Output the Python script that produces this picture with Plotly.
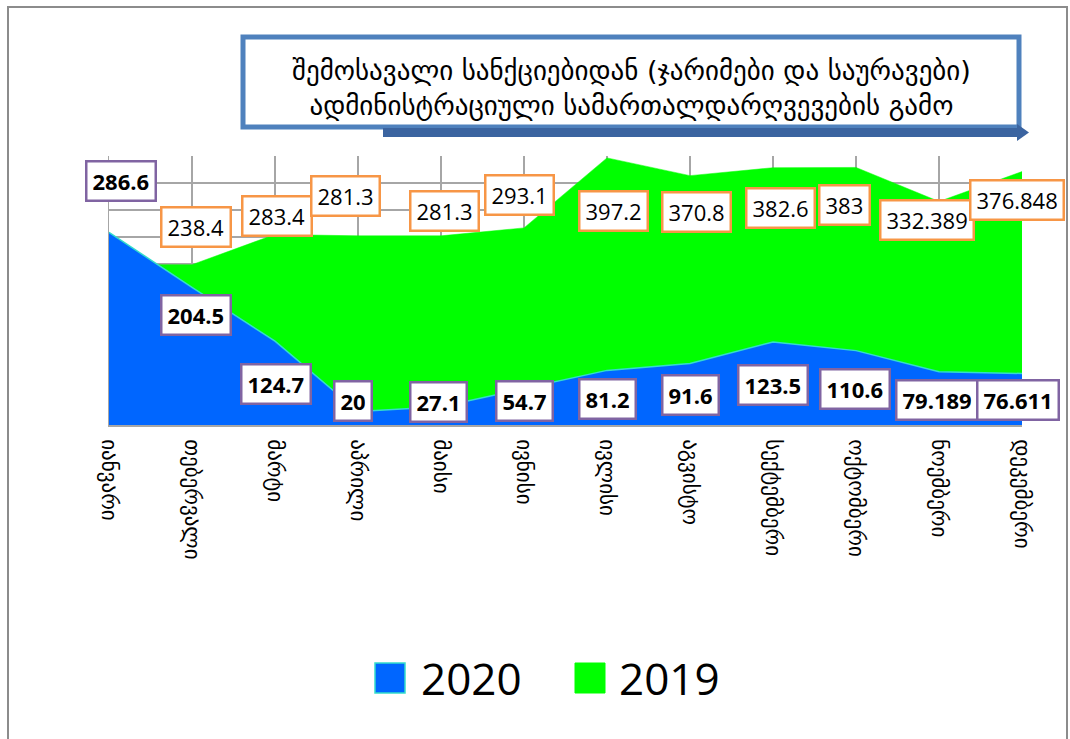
import plotly.graph_objects as go

months = ["იანვარი", "თებერვალი", "მარტი", "აპრილი", "მაისი", "ივნისი",
          "ივლისი", "აგვისტო", "სექტემბერი", "ოქტომბერი", "ნოემბერი", "დეკემბერი"]
v2020 = [286.6, 204.5, 124.7, 20, 27.1, 54.7, 81.2, 91.6, 123.5, 110.6, 79.189, 76.611]
v2019 = [238.4, 238.4, 283.4, 281.3, 281.3, 293.1, 397.2, 370.8, 382.6, 383, 332.389, 376.848]
labels2020 = ["286.6", "204.5", "124.7", "20", "27.1", "54.7", "81.2", "91.6", "123.5", "110.6", "79.189", "76.611"]
labels2019 = [None, "238.4", "283.4", "281.3", "281.3", "293.1", "397.2", "370.8", "382.6", "383", "332.389", "376.848"]

title_lines = ["შემოსავალი სანქციებიდან (ჯარიმები და საურავები)",
               "ადმინისტრაციული სამართალდარღვევების გამო"]

# label offsets (pixels) relative to the data point
shift2020 = [(12, 51), (4, -28), (1, -43), (-5, 11), (-3, 5), (0, -13), (0, -29),
             (0, -32), (0, -43), (-1, -38), (-2, -28), (-4, -27)]
shift2019 = [(0, 0), (4, 38), (2, 18), (-13, 40), (3, 25), (-5, 33), (6, -53),
             (6, -36), (7, -40), (-12, -38), (-12, -19), (-5, -28)]

BLUE = "#0066FF"
GREEN = "#00FF00"
L, R, T, B = 109, 48, 156, 314
W, H = 1070, 739
PW, PH = W - L - R, H - T - B


def px(x):
    return (x - L) / PW


def py(y):
    return (H - B - y) / PH


fig = go.Figure()
fig.add_trace(go.Scatter(x=months, y=v2019, name="2019", mode="lines", fill="tozeroy",
                         fillcolor=GREEN, line=dict(color=GREEN, width=0.5),
                         showlegend=False, hoverinfo="skip"))
fig.add_trace(go.Scatter(x=months, y=v2020, name="2020", mode="lines", fill="tozeroy",
                         fillcolor=BLUE, line=dict(color="#33DDCC", width=1.5),
                         showlegend=False, hoverinfo="skip"))

annotations = []
for i, (m, v, t) in enumerate(zip(months, v2019, labels2019)):
    if t is None:
        continue
    annotations.append(dict(x=m, y=v, text=t, showarrow=False,
                            xshift=shift2019[i][0], yshift=shift2019[i][1],
                            font=dict(family="Open Sans", size=22, color="black"),
                            bgcolor="white", bordercolor="#F79646", borderwidth=2.5,
                            borderpad=5, height=27))
for i, (m, v, t) in enumerate(zip(months, v2020, labels2020)):
    annotations.append(dict(x=m, y=v, text="<b>" + t + "</b>", showarrow=False,
                            xshift=shift2020[i][0], yshift=shift2020[i][1],
                            font=dict(family="Open Sans", size=22, color="black"),
                            bgcolor="white", bordercolor="#8064A2", borderwidth=2.5,
                            borderpad=5, height=27))

# title text
annotations.append(dict(xref="paper", yref="paper", x=px(631), y=py(88),
                        text="<br>".join(title_lines), showarrow=False,
                        font=dict(family="DejaVu Sans", size=27, color="black"),
                        align="center", xanchor="center", yanchor="middle"))
# custom legend text
annotations.append(dict(xref="paper", yref="paper", x=px(419), y=py(678),
                        text="2020", showarrow=False, xanchor="left", yanchor="middle",
                        font=dict(family="Open Sans", size=44, color="black")))
annotations.append(dict(xref="paper", yref="paper", x=px(617), y=py(678),
                        text="2019", showarrow=False, xanchor="left", yanchor="middle",
                        font=dict(family="Open Sans", size=44, color="black")))

shapes = [
    # outer frame
    dict(type="rect", xref="paper", yref="paper", x0=px(8), x1=px(1067), y0=py(760), y1=py(7),
         line=dict(color="#8C8C8C", width=2), fillcolor="rgba(0,0,0,0)", layer="below"),
    # title box
    dict(type="rect", xref="paper", yref="paper", x0=px(243), x1=px(1019), y0=py(127), y1=py(37),
         line=dict(color="#4F81BD", width=5), fillcolor="white", layer="above"),
    # arrow bar
    dict(type="rect", xref="paper", yref="paper", x0=px(383), x1=px(1020), y0=py(137), y1=py(128),
         line=dict(width=0), fillcolor="#3B64A0", layer="above"),
    # arrow head
    dict(type="path", xref="paper", yref="paper",
         path=f"M {px(1017)},{py(124)} L {px(1029)},{py(132.5)} L {px(1017)},{py(141)} Z",
         line=dict(width=0), fillcolor="#3B64A0", layer="above"),
    # legend squares
    dict(type="rect", xref="paper", yref="paper", x0=px(375), x1=px(405), y0=py(693), y1=py(663),
         line=dict(color="#33DDCC", width=1.5), fillcolor=BLUE),
    dict(type="rect", xref="paper", yref="paper", x0=px(575), x1=px(605), y0=py(693), y1=py(663),
         line=dict(color=GREEN, width=1), fillcolor=GREEN),
]

fig.update_layout(
    width=W, height=H,
    margin=dict(l=L, r=R, t=T, b=B, autoexpand=False),
    paper_bgcolor="white", plot_bgcolor="white",
    showlegend=False,
    annotations=annotations, shapes=shapes,
    xaxis=dict(type="category", range=[0, 11], showgrid=True, gridcolor="#A6A6A6", gridwidth=2,
               tickangle=90, tickfont=dict(family="DejaVu Sans", size=21, color="black"),
               showline=True, linecolor="#A6A6A6", linewidth=2, ticks="",
               ticklabelstandoff=8, zeroline=False, fixedrange=True),
    yaxis=dict(range=[0, 400], dtick=40, showgrid=True, gridcolor="#A6A6A6", gridwidth=2,
               showticklabels=False, showline=True, linecolor="#A6A6A6", linewidth=1,
               zeroline=False, fixedrange=True),
)

fig.write_html("out.html", config={"displayModeBar": False},
               post_script="document.body.style.margin='0px';")
